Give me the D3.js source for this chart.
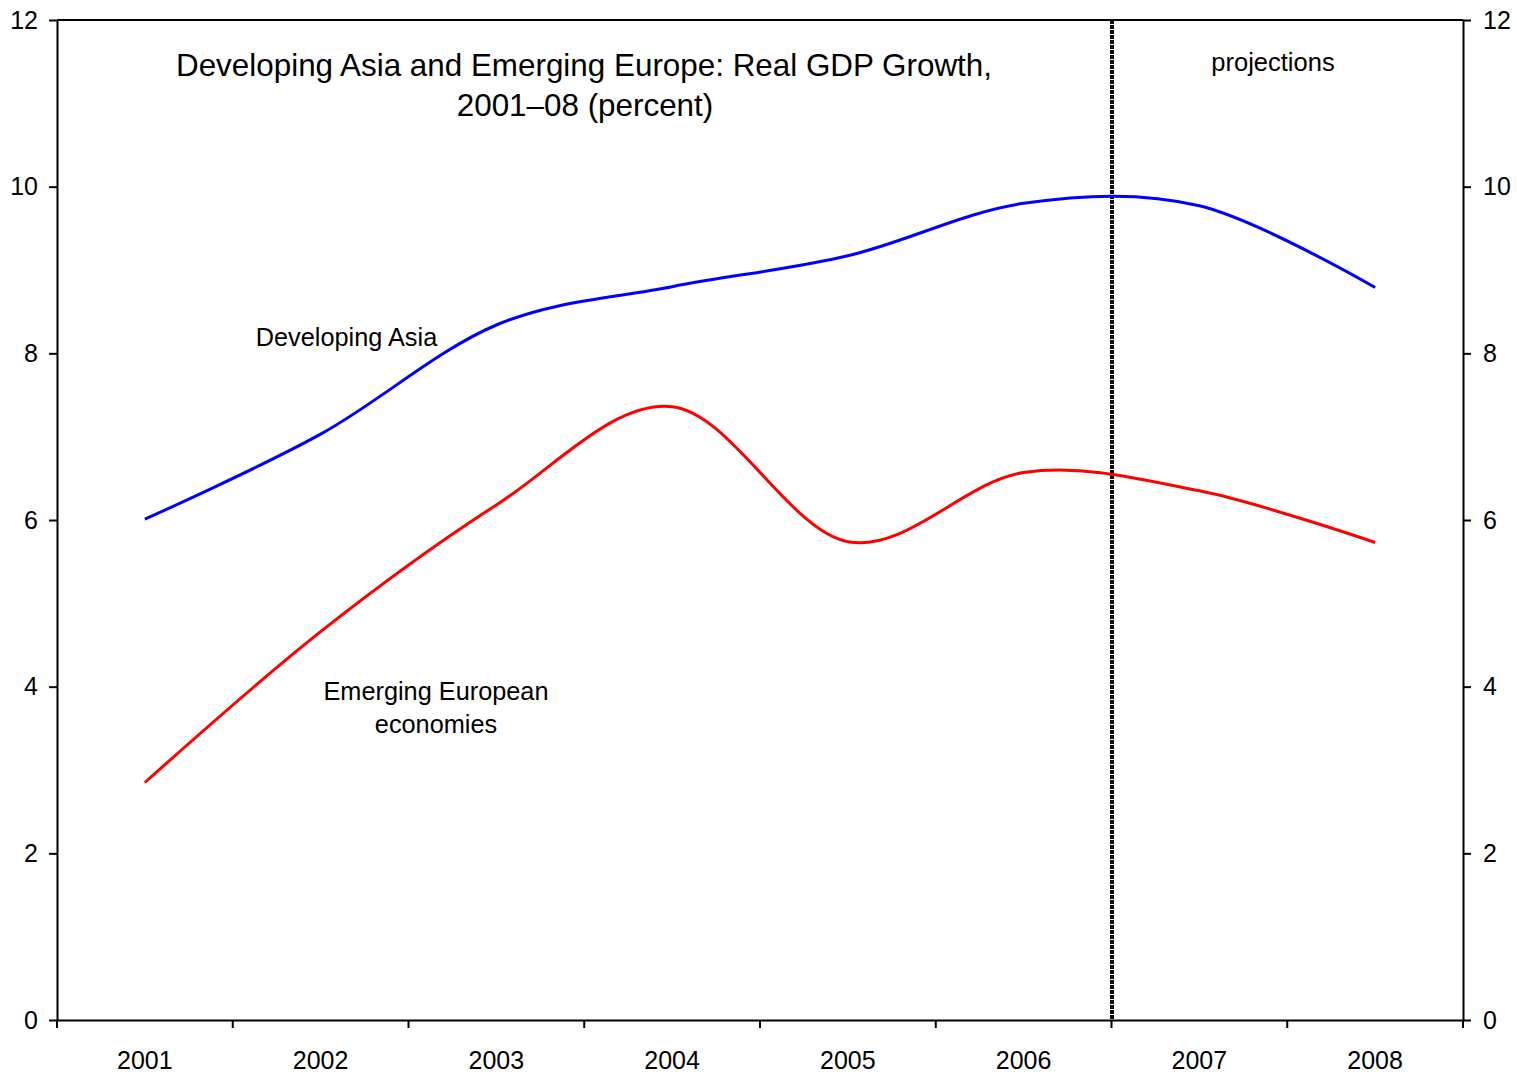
<!DOCTYPE html>
<html>
<head>
<meta charset="utf-8">
<script src="https://cdn.jsdelivr.net/npm/d3@7"></script>
<style>
  html, body { margin: 0; padding: 0; background: #fff; }
  svg { display: block; }
  text { font-family: "Liberation Sans", Arial, Helvetica, sans-serif; fill: #000; }
</style>
</head>
<body>
<svg id="chart" width="1517" height="1074"></svg>
<script>
// ---- data ----
const years = ["2001", "2002", "2003", "2004", "2005", "2006", "2007", "2008"];
const developingAsia = [6.01, 7.03, 8.34, 8.80, 9.17, 9.80, 9.77, 8.79];
const emergingEurope = [2.85, 4.66, 6.18, 7.36, 5.74, 6.57, 6.35, 5.73];
const yTicks = [0, 2, 4, 6, 8, 10, 12];
const projectionStart = "2007";
const titleLines = ["Developing Asia and Emerging Europe: Real GDP Growth,", "2001\u201308 (percent)"];

// ---- layout ----
const svg = d3.select("#chart");
const L = 57, R = 1463, T = 20, B = 1020;

const x = d3.scaleBand().domain(years).range([L, R]).padding(0);
const y = d3.scaleLinear().domain([0, 12]).range([B, T]);

// frame top
svg.append("line").attr("x1", L).attr("x2", R).attr("y1", T).attr("y2", T)
  .attr("stroke", "#000").attr("stroke-width", 2);

// left axis
const gl = svg.append("g").attr("transform", `translate(${L},0)`)
  .call(d3.axisLeft(y).tickValues(yTicks).tickSize(8).tickSizeOuter(0).tickPadding(11).tickFormat(d3.format("d")));
// right axis
const gr = svg.append("g").attr("transform", `translate(${R},0)`)
  .call(d3.axisRight(y).tickValues(yTicks).tickSize(8).tickSizeOuter(0).tickPadding(12).tickFormat(d3.format("d")));
[gl, gr].forEach(g => {
  g.select(".domain").attr("stroke", "#000").attr("stroke-width", 2);
  g.selectAll(".tick line").attr("stroke", "#000").attr("stroke-width", 2);
  g.selectAll(".tick text").attr("font-size", 25).style("font-family", '"Liberation Sans", Arial, sans-serif');
});

// bottom axis: labels at band centres
const gb = svg.append("g").attr("transform", `translate(0,${B})`)
  .call(d3.axisBottom(x).tickSize(0).tickSizeOuter(0).tickPadding(31));
gb.select(".domain").attr("stroke", "#000").attr("stroke-width", 2);
gb.selectAll(".tick text").attr("font-size", 25).style("font-family", '"Liberation Sans", Arial, sans-serif');
// boundary ticks
const bounds = years.map(d => x(d)).concat([x(years[years.length - 1]) + x.bandwidth()]);
gb.selectAll("line.bt").data(bounds).join("line").attr("class", "bt")
  .attr("x1", d => d).attr("x2", d => d).attr("y1", 0).attr("y2", 8)
  .attr("stroke", "#000").attr("stroke-width", 2);

// projection line
const px = x(projectionStart) + 0.5;
svg.append("line").attr("x1", px).attr("x2", px).attr("y1", T).attr("y2", B)
  .attr("stroke", "#000").attr("stroke-width", 4).attr("stroke-dasharray", "4,1");

// series
const line = d3.line()
  .x((d, i) => x(years[i]) + x.bandwidth() / 2)
  .y(d => y(d))
  .curve(d3.curveCardinal.tension(0));

svg.append("path").datum(developingAsia).attr("d", line)
  .attr("fill", "none").attr("stroke", "#0000FF").attr("stroke-width", 3).attr("stroke-linejoin", "round");
svg.append("path").datum(emergingEurope).attr("d", line)
  .attr("fill", "none").attr("stroke", "#FF0000").attr("stroke-width", 3).attr("stroke-linejoin", "round");

// title
svg.append("text").attr("x", 584).attr("y", 76).attr("text-anchor", "middle").attr("font-size", 31.4).text(titleLines[0]);
svg.append("text").attr("x", 585).attr("y", 116).attr("text-anchor", "middle").attr("font-size", 31.4).text(titleLines[1]);

// annotations
svg.append("text").attr("x", 1273).attr("y", 71).attr("text-anchor", "middle").attr("font-size", 25.5).text("projections");
svg.append("text").attr("x", 346.5).attr("y", 346).attr("text-anchor", "middle").attr("font-size", 25.3).text("Developing Asia");
svg.append("text").attr("x", 436).attr("y", 700).attr("text-anchor", "middle").attr("font-size", 25.3).text("Emerging European");
svg.append("text").attr("x", 436).attr("y", 733).attr("text-anchor", "middle").attr("font-size", 25.3).text("economies");
</script>
</body>
</html>
